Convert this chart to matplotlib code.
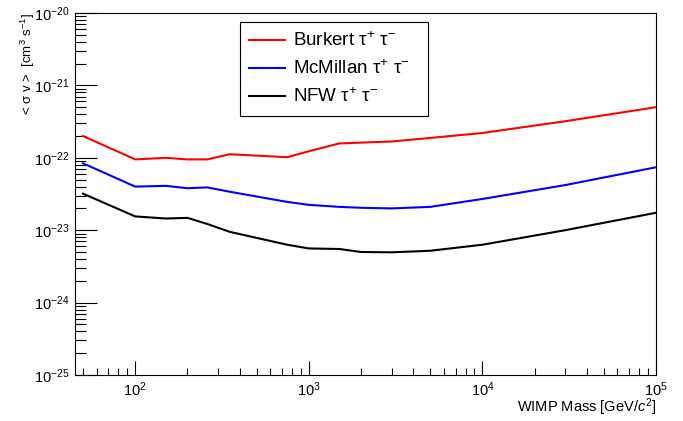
import numpy as np
import matplotlib
matplotlib.use("Agg")
import matplotlib.pyplot as plt
from matplotlib.ticker import LogLocator, FixedLocator, NullFormatter

plt.rcParams['font.family'] = ['Liberation Sans', 'DejaVu Sans']
plt.rcParams['mathtext.fontset'] = 'custom'
plt.rcParams['mathtext.rm'] = 'Liberation Sans'
plt.rcParams['mathtext.it'] = 'Liberation Sans:italic'

# WIMP mass [GeV/c^2] and upper limits <sigma v> [cm^3 s^-1]
mass = [50, 100, 150, 200, 260, 350, 750, 1000, 1500, 2000, 3000, 5000, 10000, 30000, 100000]
burkert = [2.0e-22, 9.5e-23, 1.0e-22, 9.5e-23, 9.5e-23, 1.12e-22, 1.02e-22, 1.23e-22,
           1.58e-22, 1.62e-22, 1.68e-22, 1.88e-22, 2.2e-22, 3.2e-22, 5.0e-22]
mcmillan = [8.4e-23, 4.0e-23, 4.1e-23, 3.8e-23, 3.9e-23, 3.4e-23, 2.46e-23, 2.24e-23,
            2.1e-23, 2.04e-23, 2.0e-23, 2.1e-23, 2.7e-23, 4.2e-23, 7.4e-23]
nfw = [3.2e-23, 1.55e-23, 1.45e-23, 1.48e-23, 1.22e-23, 9.5e-24, 6.3e-24, 5.6e-24,
       5.5e-24, 5.0e-24, 4.95e-24, 5.2e-24, 6.3e-24, 1.0e-23, 1.74e-23]

x_major = [1e2, 1e3, 1e4, 1e5]
y_major = [1e-25, 1e-24, 1e-23, 1e-22, 1e-21, 1e-20]

fig = plt.figure(figsize=(6.83, 4.21), dpi=100)
ax = fig.add_axes([75/683, 46/421, 581/683, 362/421])

ax.plot(mass, burkert, color='#ff0000', lw=1.5, label=r'Burkert τ$^{+}$ τ$^{-}$')
ax.plot(mass, mcmillan, color='#0000ff', lw=1.5, label=r'McMillan τ$^{+}$ τ$^{-}$')
ax.plot(mass, nfw, color='black', lw=1.5, label=r'NFW τ$^{+}$ τ$^{-}$')

ax.set_xscale('log')
ax.set_yscale('log')
ax.set_xlim(45, 1e5)
ax.set_ylim(1e-25, 1e-20)

ax.xaxis.set_major_locator(FixedLocator(x_major))
ax.xaxis.set_minor_locator(LogLocator(base=10, subs=np.arange(2, 10), numticks=20))
ax.yaxis.set_major_locator(FixedLocator(y_major))
ax.yaxis.set_minor_locator(LogLocator(base=10, subs=np.arange(2, 10), numticks=20))
ax.xaxis.set_minor_formatter(NullFormatter())
ax.yaxis.set_minor_formatter(NullFormatter())

ax.tick_params(which='both', direction='in', top=False, right=False, labelsize=10.5, width=0.8)
ax.tick_params(axis='x', which='major', length=10, pad=4)
ax.tick_params(axis='x', which='minor', length=5)
ax.tick_params(axis='y', which='major', length=16, pad=4)
ax.tick_params(axis='y', which='minor', length=8)
for s in ax.spines.values():
    s.set_linewidth(0.8)

ax.set_xlabel(r'WIMP Mass [GeV/$c^{2}$]', fontsize=10.5, loc='right')
ax.set_ylabel(r'< σ v >  [cm$^{3}$ s$^{-1}$]', fontsize=9.5, loc='top')
ax.xaxis.label.set_verticalalignment('baseline')
ax.xaxis.set_label_coords(1.0, -37/362)
ax.yaxis.set_label_coords(-38/581, 1.0)

leg = ax.legend(loc='upper left', bbox_to_anchor=(0.284, 0.71, 0.323, 0.265), mode='expand',
                borderaxespad=0, fontsize=13.5, fancybox=False, edgecolor='black',
                framealpha=1, handlelength=1.9, handletextpad=0.45, labelspacing=0.5,
                borderpad=0.5)
leg.get_frame().set_linewidth(0.8)

fig.savefig('out.png', dpi=100)
